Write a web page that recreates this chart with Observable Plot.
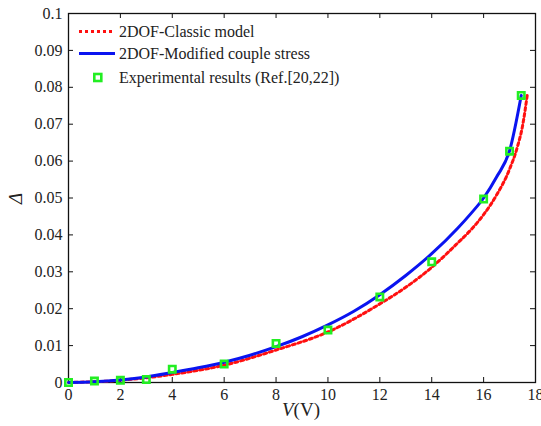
<!DOCTYPE html>
<html><head><meta charset="utf-8">
<script src="https://cdn.jsdelivr.net/npm/d3@7"></script>
<script src="https://cdn.jsdelivr.net/npm/@observablehq/plot@0.6"></script>
<style>
html,body{margin:0;padding:0;background:#fff;}
#wrap{position:relative;width:541px;height:426px;font-family:"Liberation Serif","Times New Roman",serif;color:#222;}
#wrap svg.plot{position:absolute;left:0;top:0;}
.lab{position:absolute;font-size:19px;white-space:nowrap;line-height:1;}
#legend{position:absolute;left:0;top:0;}
</style>
</head><body>
<div id="wrap"></div>
<script>
// Data
const xTicks = [0,2,4,6,8,10,12,14,16,18];
const yTicks = [0,0.01,0.02,0.03,0.04,0.05,0.06,0.07,0.08,0.09,0.1];
const yTickLabels = ["0","0.01","0.02","0.03","0.04","0.05","0.06","0.07","0.08","0.09","0.1"];

const classicV = [0,2,4,6,8,10,12,13,14,15,15.5,16,16.5,17,17.3,17.5,17.68];
const classicD = [0,0.0006,0.0022,0.0047,0.0088,0.0137,0.0213,0.0258,0.0312,0.0378,0.0413,0.0455,0.0508,0.0578,0.0638,0.0695,0.0778];

const mcsV = [0,1,2,3,4,5,6,7,8,9,10,11,12,13,14,15,15.5,16,16.5,17,17.45];
const mcsD = [0,0.0002,0.0007,0.0015,0.0027,0.004,0.0055,0.0074,0.0097,0.0124,0.0156,0.0193,0.0238,0.029,0.0349,0.0418,0.0457,0.05,0.0557,0.0628,0.0778];

const expV = [0,1,2,3,4,6,8,10,12,14,16,17,17.45];
const expD = [0,0.0004,0.0006,0.0008,0.0036,0.005,0.0106,0.0142,0.0232,0.0327,0.0497,0.0627,0.0778];

const seriesNames = ["2DOF-Classic model","2DOF-Modified couple stress","Experimental results (Ref.[20,22])"];

const classic = classicV.map((v,i)=>({v, d: classicD[i]}));
const mcs = mcsV.map((v,i)=>({v, d: mcsD[i]}));
const exp = expV.map((v,i)=>({v, d: expD[i]}));

const font = '"Liberation Serif","Times New Roman",serif';
const xMin = xTicks[0], xMax = xTicks[xTicks.length-1];
const yMin = yTicks[0], yMax = yTicks[yTicks.length-1];

const chart = Plot.plot({
  width: 541, height: 426,
  marginLeft: 68, marginRight: 6, marginTop: 13, marginBottom: 44,
  style: {fontFamily: font, fontSize: "16px", color: "#222", background: "white"},
  x: {domain: [xMin, xMax]},
  y: {domain: [yMin, yMax]},
  marks: [
    Plot.axisX({anchor: "bottom", ticks: xTicks, tickSize: 0, tickPadding: 6, label: null, tickFormat: d => String(d)}),
    Plot.axisY({anchor: "left", ticks: yTicks, tickSize: 0, tickPadding: 6, label: null, tickFormat: d => yTickLabels[yTicks.indexOf(d)]}),
    // inward ticks on all four sides
    Plot.ruleX(xTicks, {x: d => d, y1: yMin, y2: yMin, insetTop: -5, stroke: "#111"}),
    Plot.ruleX(xTicks, {x: d => d, y1: yMax, y2: yMax, insetBottom: -5, stroke: "#111"}),
    Plot.ruleY(yTicks, {y: d => d, x1: xMin, x2: xMin, insetRight: -5, stroke: "#111"}),
    Plot.ruleY(yTicks, {y: d => d, x1: xMax, x2: xMax, insetLeft: -5, stroke: "#111"}),
    Plot.frame({stroke: "#111", strokeWidth: 1.3}),
    Plot.line(classic, {x: "v", y: "d", stroke: "#ff1010", strokeWidth: 3, strokeDasharray: "3,3", curve: "monotone-x"}),
    Plot.line(mcs, {x: "v", y: "d", stroke: "#0a14f0", strokeWidth: 3, curve: "monotone-x"}),
    Plot.dot(exp, {x: "v", y: "d", symbol: "square", r: 3.6, stroke: "#22ee22", strokeWidth: 2.6, fill: "none"})
  ]
});
chart.classList.add("plot");
const wrap = document.getElementById("wrap");
wrap.appendChild(chart);

// Legend overlay
const ns = "http://www.w3.org/2000/svg";
const lg = document.createElementNS(ns, "svg");
lg.setAttribute("id","legend");
lg.setAttribute("width","541"); lg.setAttribute("height","426");
lg.innerHTML = `
 <line x1="79" y1="31.5" x2="115" y2="31.5" stroke="#ff1010" stroke-width="3" stroke-dasharray="3,3"/>
 <line x1="79" y1="53.5" x2="115" y2="53.5" stroke="#0a14f0" stroke-width="3"/>
 <rect x="94.3" y="74" width="7" height="7" fill="none" stroke="#22ee22" stroke-width="2.6"/>
 <g font-family='${font}' font-size="16" fill="#222">
  <text x="119" y="37">${seriesNames[0]}</text>
  <text x="119" y="59">${seriesNames[1]}</text>
  <text x="119" y="83">${seriesNames[2]}</text>
 </g>`;
wrap.appendChild(lg);

const xl = document.createElement("div");
xl.className = "lab";
xl.style.left = "282px"; xl.style.top = "400px";
xl.innerHTML = "<i>V</i>(V)";
wrap.appendChild(xl);

const yl = document.createElement("div");
yl.className = "lab";
yl.style.left = "10px"; yl.style.top = "189px";
yl.style.transform = "rotate(-90deg)";
yl.innerHTML = "<i>Δ</i>";
wrap.appendChild(yl);
</script>
</body></html>
